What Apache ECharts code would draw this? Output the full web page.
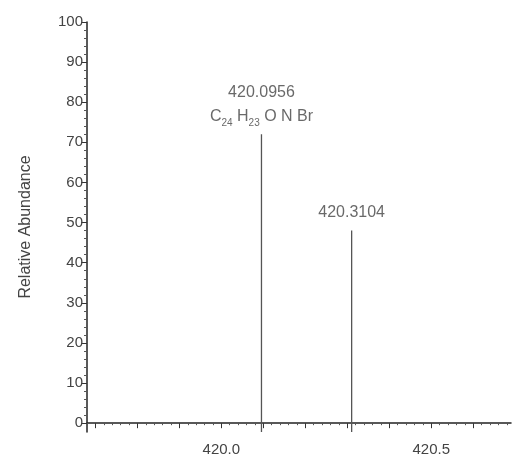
<!DOCTYPE html>
<html>
<head>
<meta charset="utf-8">
<script src="https://cdn.jsdelivr.net/npm/echarts@6/dist/echarts.min.js"></script>
<style>
  html, body { margin: 0; padding: 0; background: #fff; }
  #chart { width: 512px; height: 463px; }
</style>
</head>
<body>
<div id="chart"></div>
<script>
// peaks (m/z, relative abundance)
const peakMz = [420.0956, 420.3104]
const peakHeight = [72, 48]
const peakFormula = ['C{sub|24} H{sub|23} O N Br', '']

const xLabelValues = [420.0, 420.5]
const xMajorTicks = [419.7, 419.8, 419.9, 420.0, 420.1, 420.2, 420.3, 420.4, 420.5, 420.6]
const xMinorTicks = [419.68, 419.72, 419.74, 419.76, 419.78, 419.82, 419.84, 419.86, 419.88, 419.92, 419.94, 419.96, 419.98,
  420.02, 420.04, 420.06, 420.08, 420.12, 420.14, 420.16, 420.18, 420.22, 420.24, 420.26, 420.28,
  420.32, 420.34, 420.36, 420.38, 420.42, 420.44, 420.46, 420.48, 420.52, 420.54, 420.56, 420.58,
  420.62, 420.64, 420.66, 420.68]
const yLabelValues = [0, 10, 20, 30, 40, 50, 60, 70, 80, 90, 100]
const yMinorTicks = [2, 4, 6, 8, 12, 14, 16, 18, 22, 24, 26, 28, 32, 34, 36, 38, 42, 44, 46, 48, 52, 54, 56, 58,
  62, 64, 66, 68, 72, 74, 76, 78, 82, 84, 86, 88, 92, 94, 96, 98]

const X_MIN = 419.68
const X_MAX = 420.69
const Y_MIN = -2.2
const Y_MAX = 100

const textColor = '#444'
const font = 'Liberation Sans'

// stick lines from axis floor up to the peak top
const stickData = []
peakMz.forEach((mz, i) => {
  if (i > 0) stickData.push('-')
  stickData.push([mz, Y_MIN])
  stickData.push([mz, peakHeight[i]])
})

const labelData = peakMz.map((mz, i) => ({
  value: [mz, peakHeight[i]],
  label: {
    formatter: peakFormula[i] ? mz.toFixed(4) + '\n' + peakFormula[i] : mz.toFixed(4)
  }
}))

const chart = echarts.init(document.getElementById('chart'), null, { renderer: 'canvas' })
chart.setOption({
  animation: false,
  backgroundColor: '#fff',
  grid: { left: 87, right: 1, top: 22, bottom: 31, containLabel: false },
  xAxis: [
    {
      type: 'value',
      min: X_MIN,
      max: X_MAX,
      splitLine: { show: false },
      axisLine: { lineStyle: { color: '#222', width: 1.5 } },
      axisTick: { length: 5, lineStyle: { color: '#333' }, customValues: xMajorTicks },
      axisLabel: {
        color: textColor, fontFamily: font, fontSize: 15, margin: 10,
        customValues: xLabelValues,
        formatter: v => v.toFixed(1)
      }
    },
    {
      type: 'value',
      min: X_MIN,
      max: X_MAX,
      position: 'bottom',
      splitLine: { show: false },
      axisLine: { show: false },
      axisTick: { length: 2, lineStyle: { color: '#555' }, customValues: xMinorTicks },
      axisLabel: { show: false }
    }
  ],
  yAxis: [
    {
      type: 'value',
      min: Y_MIN,
      max: Y_MAX,
      name: 'Relative Abundance',
      nameLocation: 'middle',
      nameGap: 53,
      nameTextStyle: { color: textColor, fontFamily: font, fontSize: 16 },
      splitLine: { show: false },
      axisLine: { show: true, lineStyle: { color: '#222', width: 1.5 } },
      axisTick: { show: true, length: 6, lineStyle: { color: '#333' }, customValues: yLabelValues },
      axisLabel: {
        color: textColor, fontFamily: font, fontSize: 15, margin: 4,
        customValues: yLabelValues
      }
    },
    {
      type: 'value',
      min: Y_MIN,
      max: Y_MAX,
      position: 'left',
      splitLine: { show: false },
      axisLine: { show: false },
      axisTick: { show: true, length: 3, lineStyle: { color: '#555' }, customValues: yMinorTicks },
      axisLabel: { show: false }
    }
  ],
  series: [
    {
      name: 'sticks',
      type: 'line',
      data: stickData,
      showSymbol: false,
      symbol: 'none',
      connectNulls: false,
      lineStyle: { color: '#555', width: 1.3 },
      z: 3
    },
    {
      name: 'labels',
      type: 'scatter',
      data: labelData,
      symbolSize: 0,
      label: {
        show: true,
        position: 'top',
        distance: 6,
        color: textColor,
        fontFamily: font,
        fontSize: 16,
        lineHeight: 24,
        align: 'center',
        rich: {
          sub: { fontSize: 10, verticalAlign: 'bottom', color: textColor, fontFamily: font, lineHeight: 24, padding: [6, 0, 0, 0] }
        }
      }
    }
  ]
})
</script>
</body>
</html>
